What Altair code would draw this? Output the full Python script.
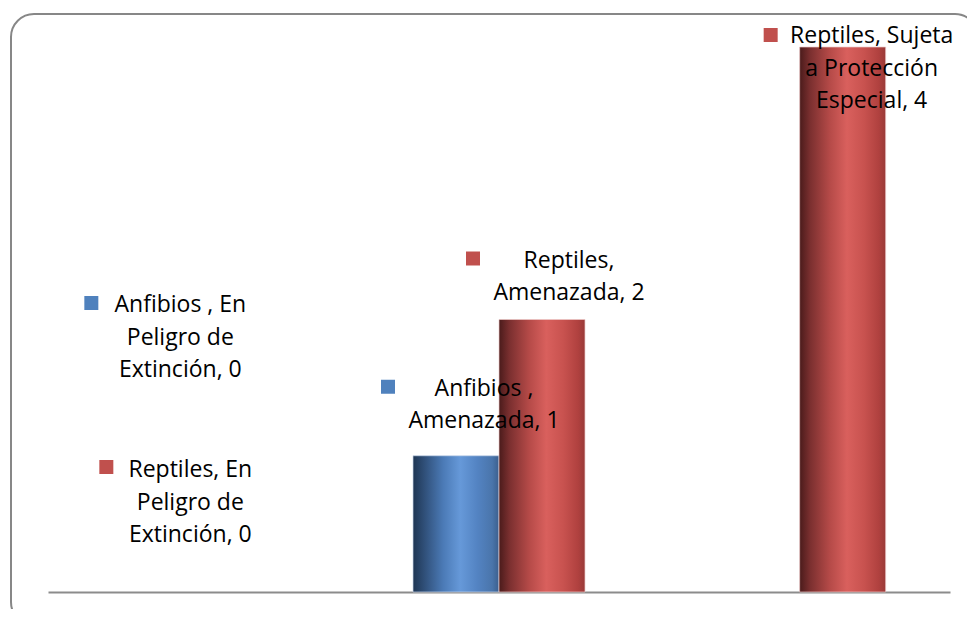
import altair as alt
import pandas as pd

# ---- data ----
categories = ["En Peligro de Extinción", "Amenazada", "Sujeta a Protección Especial"]
series = ["Anfibios ", "Reptiles"]
anfibios = [0, 1, None]
reptiles = [0, 2, 4]

# data label text (as laid out in the original, one list of lines per label)
label_series = ["Anfibios ", "Reptiles", "Anfibios ", "Reptiles", "Reptiles"]
label_category = [categories[0], categories[0], categories[1], categories[1], categories[2]]
label_value = [0, 0, 1, 2, 4]
label_lines = [
    ["Anfibios , En", "Peligro de", "Extinción, 0"],
    ["Reptiles, En", "Peligro de", "Extinción, 0"],
    ["Anfibios ,", "Amenazada, 1"],
    ["Reptiles,", "Amenazada, 2"],
    ["Reptiles, Sujeta", "a Protección", "Especial, 4"],
]

# ---- tables ----
rows = []
for c, a, r in zip(categories, anfibios, reptiles):
    rows.append({"cat": c, "serie": series[0], "val": a})
    rows.append({"cat": c, "serie": series[1], "val": r})
bars = pd.DataFrame(rows)

labels = pd.DataFrame({
    "cat": label_category,
    "serie": label_series,
    "val": label_value,
    "txt": label_lines,
    "idx": list(range(len(label_lines))),
})

W, H = 902, 545
xscale = alt.Scale(domain=categories, paddingInner=0.428, paddingOuter=0.214)
yscale = alt.Scale(domain=[0, 4], nice=False, zero=True)
offscale = alt.Scale(domain=series, paddingInner=0, paddingOuter=0)
xaxis = alt.Axis(labels=False, ticks=False, title=None, grid=False,
                 domain=True, domainColor="#8c8c8c", domainWidth=2)

key_colors = {"Anfibios ": "#4F81BD", "Reptiles": "#C0504D"}

blue_grad = alt.Gradient(
    gradient="linear", x1=0, x2=1, y1=0, y2=0,
    stops=[
        alt.GradientStop(offset=0.0, color="#1e3553"),
        alt.GradientStop(offset=0.12, color="#2e4d75"),
        alt.GradientStop(offset=0.35, color="#4b7ab6"),
        alt.GradientStop(offset=0.55, color="#6699d9"),
        alt.GradientStop(offset=0.75, color="#5383c2"),
        alt.GradientStop(offset=0.92, color="#4a75ab"),
        alt.GradientStop(offset=1.0, color="#3b5f8e"),
    ],
)
red_grad = alt.Gradient(
    gradient="linear", x1=0, x2=1, y1=0, y2=0,
    stops=[
        alt.GradientStop(offset=0.0, color="#4a1b1b"),
        alt.GradientStop(offset=0.12, color="#7a2f2f"),
        alt.GradientStop(offset=0.35, color="#b54a48"),
        alt.GradientStop(offset=0.55, color="#d9605d"),
        alt.GradientStop(offset=0.75, color="#c8524f"),
        alt.GradientStop(offset=0.92, color="#b0413f"),
        alt.GradientStop(offset=1.0, color="#993a38"),
    ],
)

base_bar = alt.Chart(bars).transform_filter("datum.val > 0")

def bar_layer(name, grad, stroke):
    return base_bar.transform_filter(alt.datum.serie == name).mark_bar(
        fill=grad, stroke=stroke, strokeWidth=1, strokeOpacity=0.7
    ).encode(
        x=alt.X("cat:N", scale=xscale, sort=categories, axis=xaxis),
        xOffset=alt.XOffset("serie:N", scale=offscale, sort=series),
        y=alt.Y("val:Q", scale=yscale, axis=None),
    )

frame = alt.Chart(pd.DataFrame({"f": [0]})).mark_rect(
    fill=None, stroke="#878787", strokeWidth=2, cornerRadius=23
).encode(
    x=alt.value(-37), x2=alt.value(930), y=alt.value(-33), y2=alt.value(578)
)

# (text dx, text dy, key dx, key dy) relative to the category centre / value point
offsets = [
    (-18, -280, -107, -289),
    (-8, -115, -92, -125),
    (-15, -60, -111, -69),
    (70, -52, -26, -61),
    (72, -4, -29, -12),
]

label_layers = []
for i, (tdx, tdy, kdx, kdy) in enumerate(offsets):
    src = alt.Chart(labels).transform_filter(alt.datum.idx == i)
    enc = dict(
        x=alt.X("cat:N", scale=xscale, sort=categories, bandPosition=0.5, axis=xaxis),
        y=alt.Y("val:Q", scale=yscale, axis=None),
    )
    label_layers.append(
        src.mark_square(
            size=196, color=key_colors[label_series[i]], opacity=1,
            xOffset=kdx, yOffset=kdy
        ).encode(**enc)
    )
    label_layers.append(
        src.mark_text(
            dx=tdx, dy=tdy, align="center", baseline="alphabetic",
            font="Open Sans", fontSize=23, lineHeight=32.7, color="#000000"
        ).encode(text="txt", **enc)
    )

chart = alt.layer(
    frame,
    bar_layer("Anfibios ", blue_grad, "#c9d6ea"),
    bar_layer("Reptiles", red_grad, "#ecc9c8"),
    *label_layers,
).properties(
    width=W, height=H,
    autosize=alt.AutoSizeParams(type="none"),
    padding={"left": 40, "top": 39, "right": 17, "bottom": 17},
).configure(background="white").configure_view(stroke=None)

chart.save("out.html", embed_options={"renderer": "svg", "actions": False})
